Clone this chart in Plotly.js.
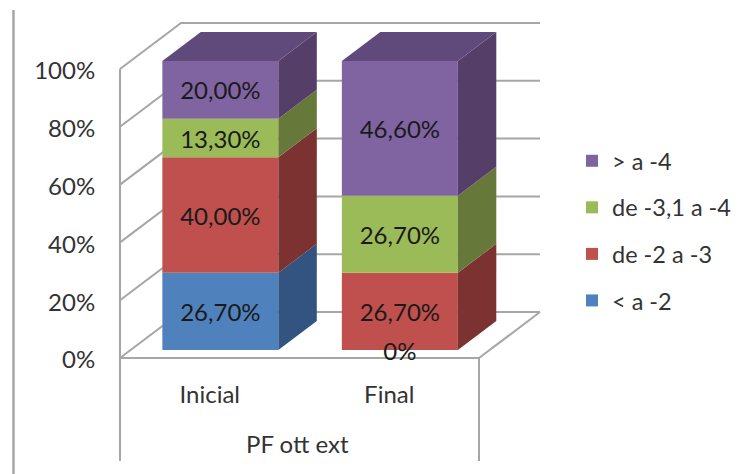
<!DOCTYPE html>
<html>
<head>
<meta charset="utf-8">
<script src="https://cdn.plot.ly/plotly-3.0.1.min.js"></script>
<style>html,body{margin:0;padding:0;background:#fff}#chart{width:753px;height:474px}</style>
</head>
<body>
<div id="chart"></div>
<script>
// Stacked percentage columns with a faux-3D box, built from real axes.
const categories = ['Inicial', 'Final'];
const seriesNames = ['< a -2', 'de -2 a -3', 'de -3,1 a -4', '> a -4'];
const belowMinus2 = [26.7, 0];
const minus2to3 = [40.0, 26.7];
const minus3to4 = [13.3, 26.7];
const aboveMinus4 = [20.0, 46.6];
const seriesValues = [belowMinus2, minus2to3, minus3to4, aboveMinus4];
const frontColors = ['#4F81BD', '#C0504D', '#9BBB59', '#8064A2'];
const sideColors = ['#335480', '#7B3230', '#66783A', '#553F68'];
const topColor = '#604A7B';
const gridValues = [0, 20, 40, 60, 80, 100];
const axisTitle = 'PF ott ext';

// Axis scale and oblique projection settings
const W = 753, H = 474;
const margin = {l: 110, r: 205, t: 18, b: 0};
const pxPerCat = 179.5, pxPerPct = 2.89;
const originX = 120, originY = 358;           // pixel of category edge -0.5 at 0 %
const boxDepth = {x: 61 / pxPerCat, y: 46 / pxPerPct};
const nearFrac = 0.174, farFrac = 0.804;      // depth of the columns inside the box
const barWidth = 116 / pxPerCat;
const gridColor = '#A6A6A6';
const textColor = '#333333';
const fontFamily = 'Lato, "Open Sans", sans-serif';
const fs = 24;
const labelNudge = 3.5 / pxPerPct;            // optical centring of the value labels

const xRange = [-0.5 + (margin.l - originX) / pxPerCat, -0.5 + (W - margin.r - originX) / pxPerCat];
const yRange = [(originY - (H - margin.b)) / pxPerPct, (originY - margin.t) / pxPerPct];

const nearX = boxDepth.x * nearFrac, nearY = boxDepth.y * nearFrac;
const farX = boxDepth.x * farFrac, farY = boxDepth.y * farFrac;

const faceTraces = [], barTraces = [];
const labelX = [], labelY = [], labelText = [];
const running = categories.map(() => 0);

function face(xs, ys, color) {
  return {type: 'scatter', mode: 'lines', x: xs, y: ys, fill: 'toself', fillcolor: color,
          line: {width: 0, color: color}, hoverinfo: 'skip', showlegend: false};
}

seriesValues.forEach((vals, s) => {
  const bases = vals.map((v, c) => running[c]);
  barTraces.push({
    type: 'bar', name: seriesNames[s], legendgroup: seriesNames[s], legendrank: seriesValues.length - s,
    x: categories.map((_, c) => c + nearX), y: vals,
    base: bases.map(b => b + nearY), width: barWidth,
    marker: {color: frontColors[s], line: {width: 0}}, hoverinfo: 'skip'
  });
  vals.forEach((v, c) => {
    const right = c + nearX + barWidth / 2;
    const b = bases[c] + nearY, t = b + v;
    faceTraces.push(face(
      [right, right + farX - nearX, right + farX - nearX, right, right],
      [b, b + farY - nearY, t + farY - nearY, t, b], sideColors[s]));
    labelX.push(c + nearX);
    labelY.push(b + v / 2 - labelNudge);
    labelText.push(v === 0 ? '0%' : v.toFixed(2).replace('.', ',') + '%');
    running[c] += v;
  });
});

// Lid of each column
categories.forEach((_, c) => {
  const left = c + nearX - barWidth / 2, right = left + barWidth;
  const t = running[c] + nearY, dx = farX - nearX, dy = farY - nearY;
  faceTraces.push(face([left, right, right + dx, left + dx, left],
                       [t, t, t + dy, t + dy, t], topColor));
});

const labelTrace = {
  type: 'scatter', mode: 'text', x: labelX, y: labelY, text: labelText,
  textposition: 'middle center', textfont: {family: fontFamily, size: fs, color: '#1a1a1a'},
  hoverinfo: 'skip', showlegend: false, cliponaxis: false
};

// Walls and floor of the box
const L = -0.5, R = 1.5;
const gridLine = {color: gridColor, width: 2};
const shapes = gridValues.map(v => ({
  type: 'path', layer: 'below', xref: 'x', yref: 'y', line: gridLine,
  path: `M${L},${v} L${L + boxDepth.x},${v + boxDepth.y} L${R + boxDepth.x},${v + boxDepth.y}`
}));
const yFoot = (originY - 461) / pxPerPct;
shapes.push(
  {type: 'line', layer: 'below', xref: 'x', yref: 'y', x0: L, x1: L, y0: yFoot, y1: 100, line: gridLine},
  {type: 'line', layer: 'below', xref: 'x', yref: 'y', x0: R, x1: R, y0: yFoot, y1: 0, line: gridLine},
  {type: 'line', layer: 'below', xref: 'x', yref: 'y', x0: L, x1: R, y0: 0, y1: 0, line: gridLine},
  {type: 'line', layer: 'below', xref: 'x', yref: 'y', x0: R, x1: R + boxDepth.x, y0: 0, y1: boxDepth.y, line: gridLine},
  // Frame rule on the far left of the picture
  {type: 'line', layer: 'below', xref: 'paper', yref: 'paper',
   x0: (13.5 - margin.l) / (W - margin.l - margin.r), x1: (13.5 - margin.l) / (W - margin.l - margin.r),
   y0: 0, y1: (H - 10 - margin.b) / (H - margin.t - margin.b), line: {color: gridColor, width: 2.5}}
);

const layout = {
  width: W, height: H, margin: margin, paper_bgcolor: '#fff', plot_bgcolor: 'rgba(0,0,0,0)',
  barmode: 'overlay', showlegend: true,
  font: {family: fontFamily, size: fs, color: textColor},
  xaxis: {
    range: xRange, tickmode: 'array', tickvals: [0, 1], ticktext: categories,
    showgrid: false, zeroline: false, showline: false, ticks: 'outside', ticklen: 15,
    tickcolor: 'rgba(0,0,0,0)', anchor: 'free',
    position: ((H - margin.b) - originY) / (H - margin.t - margin.b),
    tickfont: {family: fontFamily, size: fs, color: textColor}
  },
  yaxis: {
    range: yRange, tickmode: 'array', tickvals: gridValues, ticktext: gridValues.map(v => v + '%'),
    showgrid: false, zeroline: false, showline: false, ticks: 'outside', ticklen: 9,
    ticklabelshift: 2,
    tickcolor: 'rgba(0,0,0,0)', tickfont: {family: fontFamily, size: fs, color: textColor}
  },
  legend: {
    x: (572 - margin.l) / (W - margin.l - margin.r), xanchor: 'left',
    y: (H - 139 - margin.b) / (H - margin.t - margin.b), yanchor: 'top',
    traceorder: 'grouped', tracegroupgap: 13,
    font: {family: fontFamily, size: 23.5, color: textColor}, bgcolor: 'rgba(0,0,0,0)'
  },
  annotations: [{
    xref: 'x', yref: 'y', x: 0.49, y: (originY - 443) / pxPerPct, text: axisTitle, showarrow: false,
    font: {family: fontFamily, size: fs, color: textColor}
  }],
  shapes: shapes
};

Plotly.newPlot('chart', [...barTraces, ...faceTraces, labelTrace], layout, {staticPlot: true, displayModeBar: false});
</script>
</body>
</html>
